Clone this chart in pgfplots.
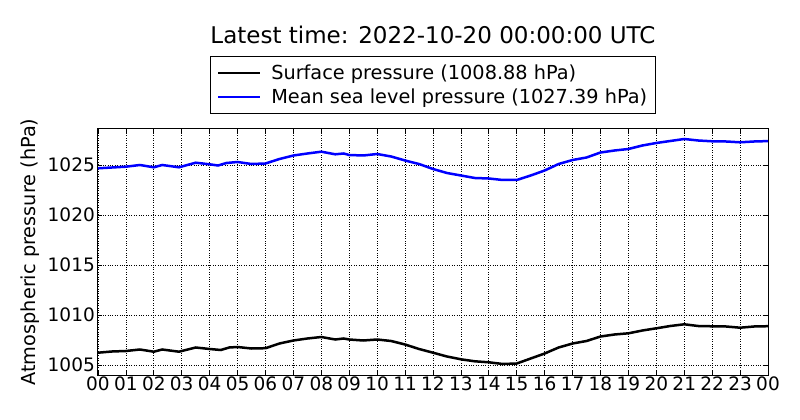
\documentclass[border=0pt]{standalone}
\usepackage{pgfplots}
\pgfplotsset{compat=1.18}
\usepackage{fontspec}
\setmainfont{DejaVu Sans}
\begin{document}
\begin{tikzpicture}
\begin{axis}[
  at={(0,0)}, anchor=south west,
  scale only axis, width=670bp, height=246bp,
  xmin=0, xmax=24, ymin=1004, ymax=1028.6,
  xtick={0,1,...,24},
  xticklabels={00,01,02,03,04,05,06,07,08,09,10,11,12,13,14,15,16,17,18,19,20,21,22,23,00},
  ytick={1005,1010,1015,1020,1025},
  yticklabels={1005,1010,1015,1020,1025},
  tick label style={font=\fontsize{18.5bp}{22bp}\selectfont},
  xticklabel style={inner xsep=0pt, inner ysep=2bp},
  yticklabel style={inner xsep=3bp},
  major tick length=4bp,
  tick style={black, line width=0.8bp},
  axis line style={black, line width=1bp},
  grid=major,
  grid style={black, dotted, line width=0.7bp},
  ylabel={Atmospheric pressure (hPa)},
  ylabel style={at={(axis description cs:-0.1015,0.5)}, anchor=center, font=\fontsize{19.3bp}{23bp}\selectfont},
  legend style={at={(axis description cs:0.5,1.179)}, anchor=center,
    draw=black, line width=0.8bp, fill=white,
    font=\fontsize{19.3bp}{23bp}\selectfont,
    inner xsep=6bp, inner ysep=6.5bp, row sep=4bp, column sep=8bp,
    cells={anchor=west}},
  legend image code/.code={\draw[#1, line width=2.5bp] (0bp,0bp) -- (42bp,0bp);},
  legend cell align=left,
]
\addplot[black, line width=2.5bp] coordinates {
(0,1006.23) (0.5,1006.35) (1,1006.4) (1.5,1006.55) (2,1006.33) (2.3,1006.55) (2.9,1006.33)
(3.5,1006.75) (4,1006.6) (4.4,1006.5) (4.7,1006.75) (5,1006.8) (5.5,1006.65) (6,1006.68)
(6.5,1007.15) (7,1007.45) (7.5,1007.65) (8,1007.8) (8.5,1007.55) (8.8,1007.65) (9,1007.55)
(9.5,1007.45) (10,1007.55) (10.5,1007.4) (11,1007.05) (11.5,1006.6) (12,1006.23) (12.5,1005.85)
(13,1005.57) (13.5,1005.37) (14,1005.27) (14.5,1005.1) (15,1005.15) (15.5,1005.65) (16,1006.15)
(16.5,1006.75) (17,1007.15) (17.5,1007.4) (18,1007.85) (18.5,1008.05) (19,1008.17) (19.5,1008.45)
(20,1008.67) (20.5,1008.9) (21,1009.07) (21.5,1008.9) (22,1008.87) (22.5,1008.85) (23,1008.73)
(23.5,1008.85) (24,1008.88)
};
\addlegendentry{Surface pressure (1008.88 hPa)}
\addplot[blue, line width=2.5bp] coordinates {
(0,1024.67) (0.5,1024.75) (1,1024.83) (1.5,1025.0) (2,1024.77) (2.3,1025.0) (2.9,1024.77)
(3.5,1025.23) (4,1025.07) (4.3,1024.95) (4.6,1025.2) (5,1025.3) (5.5,1025.1) (6,1025.15)
(6.5,1025.6) (7,1025.95) (7.5,1026.15) (8,1026.33) (8.5,1026.07) (8.8,1026.15) (9,1026.0)
(9.5,1025.95) (10,1026.1) (10.5,1025.85) (11,1025.45) (11.5,1025.1) (12,1024.6) (12.5,1024.2)
(13,1023.95) (13.5,1023.7) (14,1023.65) (14.5,1023.5) (15,1023.5) (15.5,1023.95) (16,1024.45)
(16.5,1025.1) (17,1025.5) (17.5,1025.75) (18,1026.25) (18.5,1026.45) (19,1026.6) (19.5,1026.95)
(20,1027.2) (20.5,1027.4) (21,1027.6) (21.5,1027.45) (22,1027.37) (22.5,1027.35) (23,1027.27)
(23.5,1027.35) (24,1027.39)
};
\addlegendentry{Mean sea level pressure (1027.39 hPa)}
\end{axis}
\node[font=\fontsize{23bp}{27bp}\selectfont] at (335bp,340bp) {Latest time: 2022-10-20 00:00:00 UTC};
\path[use as bounding box] (-98bp,-45bp) rectangle (702bp,375bp);
\end{tikzpicture}
\end{document}
